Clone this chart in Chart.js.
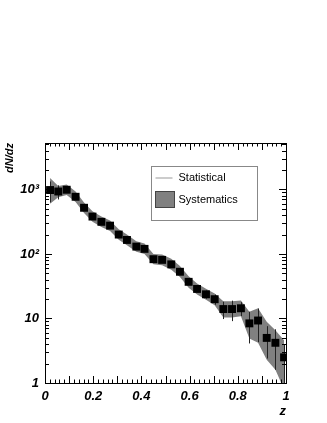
<!DOCTYPE html>
<html>
<head>
<meta charset="utf-8">
<script src="https://cdn.jsdelivr.net/npm/chart.js@4.4.1/dist/chart.umd.min.js"></script>
<style>
  html, body { margin: 0; padding: 0; background: #fff; }
</style>
</head>
<body>
<canvas id="chart" width="327" height="423"></canvas>
<script>
//values
var zValues = [0.021, 0.055, 0.090, 0.127, 0.162, 0.197, 0.234, 0.270, 0.306, 0.340, 0.379, 0.413, 0.450, 0.486,
               0.524, 0.560, 0.596, 0.631, 0.668, 0.704, 0.740, 0.776, 0.813, 0.848, 0.884, 0.920, 0.956, 0.992];
var dndz = [980, 930, 990, 770, 520, 380, 315, 275, 200, 165, 130, 120, 83, 81,
            69, 53, 37, 28.7, 23.7, 19.9, 14.0, 14.0, 14.4, 8.4, 9.3, 5.0, 4.2, 2.5];
var statErr = [350, 230, 70, 35, 22, 14, 11, 9, 7, 6, 5, 4.5, 3.5, 3.5,
               3.2, 3, 3.2, 3, 3.4, 3.6, 4.2, 4.9, 3.5, 4.3, 5.0, 2.6, 2.6, 1.5];
var sysHigh = [1500, 1130, 1190, 930, 630, 460, 380, 330, 242, 200, 157, 145, 100, 98,
               84, 65, 45, 35, 29, 24.5, 18.5, 18.5, 19, 12.7, 14.4, 8.9, 6.6, 4.6];
var sysLow = [600, 760, 820, 640, 430, 315, 262, 228, 166, 137, 108, 100, 69, 67,
              57, 44, 30, 23.5, 19.5, 16, 10.4, 10.4, 10.8, 4.9, 4.2, 2.3, 1.6, 0.8];

var xTickValues = [0, 0.2, 0.4, 0.6, 0.8, 1];
var xTickLabels = ['0', '0.2', '0.4', '0.6', '0.8', '1'];
var yTickValues = [1, 10, 100, 1000];
var yTickLabels = ['1', '10', '10\u00B2', '10\u00B3'];
var legendLabels = ['Statistical', 'Systematics'];

var bandGrey = '#808080';
var labelFont = { family: 'Liberation Sans', size: 13, weight: 'bold', style: 'italic' };

function pairs(vals) {
  return zValues.map(function(z, i) { return { x: z, y: vals[i] }; });
}

// vertical statistical error bars, drawn under the markers
var errorBars = {
  id: 'errorBars',
  beforeDatasetDraw: function(chart, args) {
    if (args.index != 0) return;
    var ctx = chart.ctx, a = chart.chartArea;
    var xs = chart.scales.x, ys = chart.scales.y;
    ctx.save();
    ctx.beginPath();
    ctx.rect(a.left, a.top, a.right - a.left, a.bottom - a.top);
    ctx.clip();
    ctx.strokeStyle = '#222';
    ctx.lineWidth = 1;
    ctx.beginPath();
    for (var i = 0; i < dndz.length; i++) {
      var px = Math.round(xs.getPixelForValue(zValues[i])) + 0.5;
      var lo = dndz[i] - statErr[i];
      var yLo = lo > 0 ? ys.getPixelForValue(lo) : a.bottom;
      ctx.moveTo(px, ys.getPixelForValue(dndz[i] + statErr[i]));
      ctx.lineTo(px, yLo);
    }
    ctx.stroke();
    ctx.restore();
  }
};

// ROOT-like frame with inward ticks on all four sides
var rootFrame = {
  id: 'rootFrame',
  afterDatasetsDraw: function(chart) {
    var ctx = chart.ctx, a = chart.chartArea;
    var xs = chart.scales.x, ys = chart.scales.y;
    ctx.save();
    ctx.strokeStyle = '#000';
    ctx.lineWidth = 1;
    ctx.beginPath();
    for (var i = 0; i <= 50; i++) {
      var px = Math.round(xs.getPixelForValue(i / 50)) + 0.5;
      var len = (i % 5 == 0) ? 7 : 3.5;
      ctx.moveTo(px, a.bottom); ctx.lineTo(px, a.bottom - len);
      ctx.moveTo(px, a.top); ctx.lineTo(px, a.top + len);
    }
    for (var d = 1; d <= 1000; d *= 10) {
      for (var m = 1; m < 10; m++) {
        var v = d * m;
        if (v > ys.max) break;
        var py = Math.round(ys.getPixelForValue(v)) + 0.5;
        var l = (m == 1) ? 7 : 4;
        ctx.moveTo(a.left, py); ctx.lineTo(a.left + l, py);
        ctx.moveTo(a.right, py); ctx.lineTo(a.right - l, py);
      }
    }
    ctx.stroke();
    ctx.strokeRect(Math.round(a.left) + 0.5, Math.round(a.top) + 0.5,
                   Math.round(a.right - a.left), Math.round(a.bottom - a.top));
    ctx.restore();
  }
};

// legend box placed inside the frame like a TLegend
var boxLegend = {
  id: 'boxLegend',
  afterDraw: function(chart) {
    var ctx = chart.ctx, a = chart.chartArea;
    var w = a.right - a.left, h = a.bottom - a.top;
    var bx = Math.round(a.left + 0.44 * w) + 0.5;
    var by = Math.round(a.top + 0.095 * h) + 0.5;
    var bw = 106, bh = 54;
    ctx.save();
    ctx.fillStyle = '#fff';
    ctx.fillRect(bx, by, bw, bh);
    ctx.strokeStyle = '#888';
    ctx.lineWidth = 1;
    ctx.strokeRect(bx, by, bw, bh);
    // statistical entry
    ctx.strokeStyle = '#999';
    ctx.beginPath();
    ctx.moveTo(bx + 4, by + 11.5);
    ctx.lineTo(bx + 21, by + 11.5);
    ctx.stroke();
    // systematics entry
    ctx.fillStyle = bandGrey;
    ctx.fillRect(bx + 4, by + 25, 19, 16);
    ctx.strokeStyle = '#444';
    ctx.strokeRect(bx + 4, by + 25, 19, 16);
    ctx.fillStyle = '#000';
    ctx.font = '11px "Liberation Sans"';
    ctx.textBaseline = 'middle';
    ctx.fillText(legendLabels[0], bx + 27, by + 11);
    ctx.fillText(legendLabels[1], bx + 27, by + 33);
    ctx.restore();
  }
};

var chartData = {
  datasets: [{
    label: 'dN/dz',
    data: pairs(dndz),
    showLine: false,
    pointStyle: 'rect',
    pointRadius: 5.6,
    pointBackgroundColor: '#000',
    pointBorderColor: '#000',
    pointBorderWidth: 0
  },
  {
    label: 'sys high',
    data: pairs(sysHigh),
    borderWidth: 0,
    pointRadius: 0,
    backgroundColor: bandGrey,
    fill: '+1'
  },
  {
    label: 'sys low',
    data: pairs(sysLow),
    borderWidth: 0,
    pointRadius: 0,
    fill: false
  }]
};

window.onload = function() {
  var ctx = document.getElementById('chart').getContext('2d');
  window.zChart = new Chart(ctx, {
    type: 'line',
    data: chartData,
    plugins: [errorBars, rootFrame, boxLegend],
    options: {
      responsive: false,
      animation: false,
      layout: { padding: { top: 143, right: 41, left: 0, bottom: 0 } },
      plugins: {
        legend: { display: false },
        tooltip: { enabled: false }
      },
      scales: {
        x: {
          type: 'linear',
          min: 0,
          max: 1,
          grid: { display: false, drawTicks: false },
          border: { display: false },
          afterBuildTicks: function(scale) {
            scale.ticks = xTickValues.map(function(v) { return { value: v }; });
          },
          afterFit: function(scale) { scale.height = 40; },
          ticks: {
            autoSkip: false,
            maxRotation: 0,
            padding: 6,
            color: '#000',
            font: labelFont,
            callback: function(v, i) { return xTickLabels[i]; }
          },
          title: {
            display: true,
            text: 'z',
            align: 'end',
            color: '#000',
            font: labelFont,
            padding: { top: 0, bottom: 4 }
          }
        },
        y: {
          type: 'logarithmic',
          min: 1,
          max: 5250,
          grid: { display: false, drawTicks: false },
          border: { display: false },
          afterBuildTicks: function(scale) {
            scale.ticks = yTickValues.map(function(v) { return { value: v }; });
          },
          afterFit: function(scale) { scale.width = 45; },
          ticks: {
            autoSkip: false,
            padding: 6,
            color: '#000',
            font: labelFont,
            callback: function(v, i) { return yTickLabels[i]; }
          },
          title: {
            display: true,
            text: 'dN/dz',
            align: 'end',
            color: '#000',
            font: { family: 'Liberation Sans', size: 11, weight: 'bold', style: 'italic' },
            padding: { top: 3, bottom: 0 }
          }
        }
      }
    }
  });
};
</script>
</body>
</html>
